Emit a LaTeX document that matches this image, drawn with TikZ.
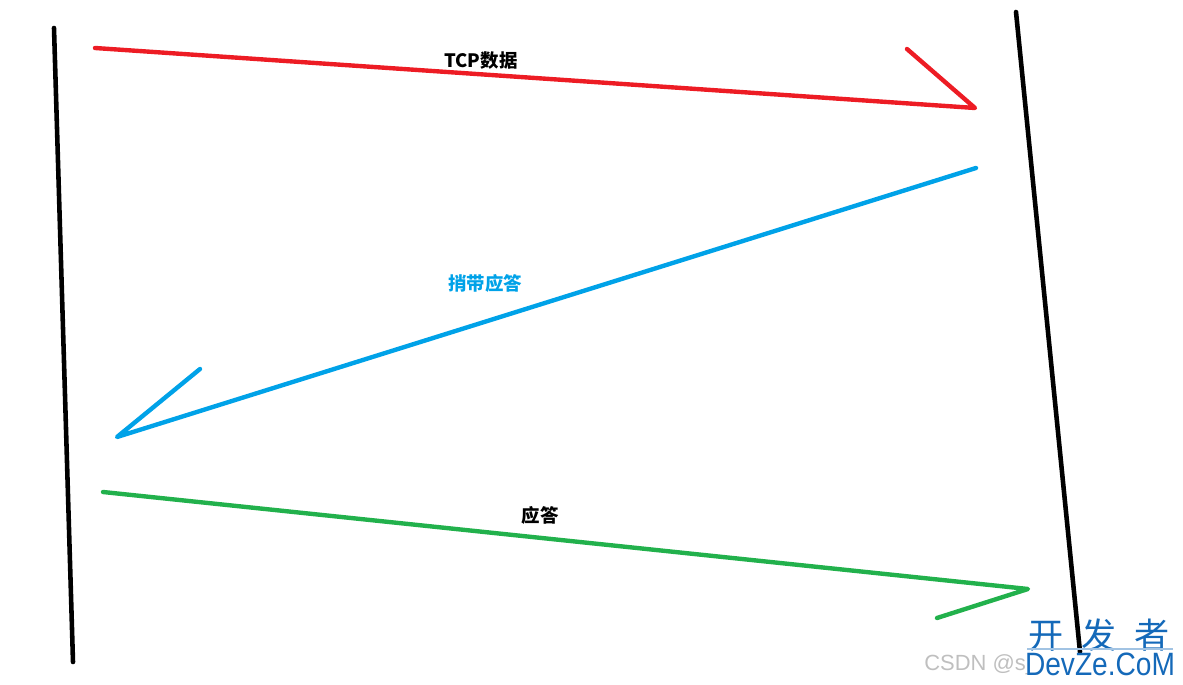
\documentclass[tikz,border=0pt]{standalone}
\usepackage{fontspec}
\newfontfamily\cjk{Noto Sans CJK SC}
\newfontfamily\wmfont{Liberation Sans}
\definecolor{paintred}{RGB}{237,28,36}
\definecolor{paintblue}{RGB}{0,162,232}
\definecolor{paintgreen}{RGB}{34,177,76}
\definecolor{wmblue}{RGB}{20,105,185}

\begin{document}
\begin{tikzpicture}[x=0.02cm,y=-0.02cm]
	\tikzstyle{wall}=[draw,line width = 2.6pt,-,black,line cap=round]
	\tikzstyle{msg}=[draw,line width = 2.5pt,-,line cap=round,line join=round]
	\tikzstyle{lbl}=[font=\cjk\bfseries\fontsize{10.5}{12}\selectfont,inner sep=0pt]
	\useasboundingbox (0,0) rectangle (1183,685);
	% the two hosts
	\coordinate (lt) at (54,28);
	\coordinate (lb) at (73,662);
	\coordinate (rt) at (1016,12);
	\coordinate (rb) at (1080,652);
	\draw[wall] (lt) -- (lb);
	\draw[wall] (rt) -- (rb);
	% tcp data
	\coordinate (d0) at (95,48);
	\coordinate (d1) at (975,108);
	\coordinate (d2) at (907,49);
	\draw[msg,paintred] (d0) -- (d1) -- (d2);
	\node[lbl] (dtext) at (481,61) {TCP数据};
	% piggyback ack
	\coordinate (p0) at (976,168);
	\coordinate (p1) at (117,437);
	\coordinate (p2) at (200,369);
	\draw[msg,paintblue] (p0) -- (p1) -- (p2);
	\node[lbl,text=paintblue] (ptext) at (485,283) {捎带应答};
	% ack
	\coordinate (a0) at (103,492);
	\coordinate (a1) at (1028,589);
	\coordinate (a2) at (937,618);
	\draw[msg,paintgreen] (a0) -- (a1) -- (a2);
	\node[lbl] (atext) at (540,515) {应答};
	% watermark
	\node[font=\wmfont\fontsize{12.5}{14}\selectfont,text=black!25,anchor=west,inner sep=0pt] (csdn) at (924,665) {CSDN @s\_};
	\node[font=\cjk\fontsize{20}{22}\selectfont,text=wmblue,inner sep=0pt] (kfz) at (1099,635) {开\hspace{0.5em}发\hspace{0.5em}者};
	\draw[wmblue!40,line width=0.6pt] (1027,649) -- (1173,649);
	\node[font=\wmfont\fontsize{16}{18}\selectfont,text=wmblue,inner sep=0pt,yscale=1.15] (dvz) at (1100,664) {DevZe.CoM};
\end{tikzpicture}
\end{document}
